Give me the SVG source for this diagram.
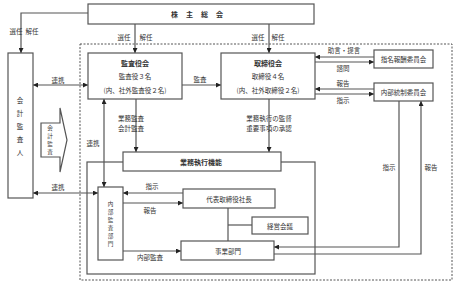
<svg xmlns="http://www.w3.org/2000/svg" width="456" height="286" viewBox="0 0 456 286">
<style>
.box{fill:#fff;stroke:#555;stroke-width:1.2}
.ln{fill:none;stroke:#555;stroke-width:1.2}
.t{font-family:"Noto Sans CJK JP","Noto Sans",sans-serif;font-size:6.5px;fill:#333;text-anchor:middle;dominant-baseline:central}
.b{font-weight:bold;font-size:7px}
.v{font-size:5.6px}
</style>
<defs>
<marker id="ah" viewBox="0 0 6 6" refX="6" refY="3" markerWidth="5" markerHeight="5" markerUnits="userSpaceOnUse" orient="auto-start-reverse">
<path d="M0,0 L6,3 L0,6 Z" fill="#222"/>
</marker>
</defs>
<rect x="80" y="44" width="372" height="236" fill="none" stroke="#555" stroke-width="1" stroke-dasharray="2,1.5"/>
<rect x="87" y="162" width="228" height="112" class="ln"/>
<g id="connectors">
<path class="ln" d="M88,13 H21 V53" marker-end="url(#ah)"/>
<path class="ln" d="M135,24 V53" marker-end="url(#ah)"/>
<path class="ln" d="M269,24 V53" marker-end="url(#ah)"/>
<path class="ln" d="M33,85 H88" marker-start="url(#ah)" marker-end="url(#ah)"/>
<path class="ln" d="M182,85 H221" marker-end="url(#ah)"/>
<path class="ln" d="M374,57 H315" marker-end="url(#ah)"/>
<path class="ln" d="M315,62 H374" marker-end="url(#ah)"/>
<path class="ln" d="M374,89 H315" marker-end="url(#ah)"/>
<path class="ln" d="M315,94 H374" marker-end="url(#ah)"/>
<path class="ln" d="M136,99 V152" marker-end="url(#ah)"/>
<path class="ln" d="M269,99 V152" marker-end="url(#ah)"/>
<path class="ln" d="M104,99 V187" marker-start="url(#ah)" marker-end="url(#ah)"/>
<path class="ln" d="M33,193 H98" marker-start="url(#ah)" marker-end="url(#ah)"/>
<path class="ln" d="M183,193 H123" marker-end="url(#ah)"/>
<path class="ln" d="M123,203 H183" marker-end="url(#ah)"/>
<path class="ln" d="M123,251 H181" marker-end="url(#ah)"/>
<path class="ln" d="M228,208 V241"/>
<path class="ln" d="M228,225 H252"/>
<path class="ln" d="M399,101 V247 H274" marker-end="url(#ah)"/>
<path class="ln" d="M274,254 H421 V101" marker-end="url(#ah)"/>
<text class="t" x="16" y="31">選任</text><text class="t" x="32" y="31">解任</text>
<text class="t" x="124" y="37">選任</text><text class="t" x="146" y="37">解任</text>
<text class="t" x="258" y="37">選任</text><text class="t" x="278" y="37">解任</text>
<text class="t" x="58" y="80">連携</text>
<text class="t" x="200" y="79">監査</text>
<text class="t" x="344" y="50">助言・提言</text>
<text class="t" x="343" y="68">諮問</text>
<text class="t" x="343" y="83">報告</text>
<text class="t" x="343" y="100">指示</text>
<text class="t" x="131" y="118">業務監査</text>
<text class="t" x="131" y="128">会計監査</text>
<text class="t" x="269" y="118">業務執行の監督</text>
<text class="t" x="269" y="128">重要事項の承認</text>
<text class="t" x="93" y="143">連携</text>
<text class="t" x="58" y="187">連携</text>
<text class="t" x="152" y="186">指示</text>
<text class="t" x="150" y="210">報告</text>
<text class="t" x="150" y="257">内部監査</text>
<text class="t" x="389" y="167">指示</text>
<text class="t" x="431" y="167">報告</text>
</g>
<g id="kabunushi">
<rect class="box" x="88" y="4" width="226" height="20"/>
<text class="t b" x="201" y="14" letter-spacing="8">株主総会</text>
</g>
<g id="kaikei-kansanin">
<rect class="box" x="8" y="53" width="25" height="145"/>
<text class="t" font-size="7" x="20" y="100">会</text>
<text class="t" font-size="7" x="20" y="113">計</text>
<text class="t" font-size="7" x="20" y="126">監</text>
<text class="t" font-size="7" x="20" y="139">査</text>
<text class="t" font-size="7" x="20" y="152">人</text>
</g>
<g id="kaikei-kansa-arrow">
<polygon class="box" points="41,123 60,123 60,108 67,140 60,172 60,157 41,157"/>
<text class="t v" x="50" y="128">会</text>
<text class="t v" x="50" y="136">計</text>
<text class="t v" x="50" y="144">監</text>
<text class="t v" x="50" y="152">査</text>
</g>
<g id="kansayakukai">
<rect class="box" x="88" y="53" width="94" height="46"/>
<text class="t b" x="135" y="63">監査役会</text>
<text class="t" x="135" y="76">監査役３名</text>
<text class="t" x="135" y="90">(内、社外監査役２名)</text>
</g>
<g id="torishimariyakukai">
<rect class="box" x="221" y="53" width="94" height="46"/>
<text class="t b" x="268" y="63">取締役会</text>
<text class="t" x="268" y="76">取締役４名</text>
<text class="t" x="268" y="90">(内、社外取締役２名)</text>
</g>
<g id="shimei">
<rect class="box" x="374" y="50" width="59" height="18"/>
<text class="t" x="403.500" y="59">指名報酬委員会</text>
</g>
<g id="naibutosei">
<rect class="box" x="374" y="83" width="59" height="18"/>
<text class="t" x="403.500" y="92">内部統制委員会</text>
</g>
<g id="gyomu">
<rect class="box" x="123" y="152" width="158" height="19"/>
<text class="t b" x="201" y="161.500">業務執行機能</text>
</g>
<g id="naibukansa">
<rect class="box" x="98" y="187" width="25" height="73"/>
<text class="t v" x="110.500" y="204">内</text>
<text class="t v" x="110.500" y="212">部</text>
<text class="t v" x="110.500" y="220">監</text>
<text class="t v" x="110.500" y="228">査</text>
<text class="t v" x="110.500" y="236">部</text>
<text class="t v" x="110.500" y="244">門</text>
</g>
<g id="shacho">
<rect class="box" x="183" y="189" width="92" height="19"/>
<text class="t" x="229" y="198.500">代表取締役社長</text>
</g>
<g id="keiei">
<rect class="box" x="252" y="217" width="56" height="17"/>
<text class="t" x="280" y="225.500">経営会議</text>
</g>
<g id="jigyo">
<rect class="box" x="181" y="241" width="93" height="19"/>
<text class="t" x="228" y="250.500">事業部門</text>
</g>
</svg>
